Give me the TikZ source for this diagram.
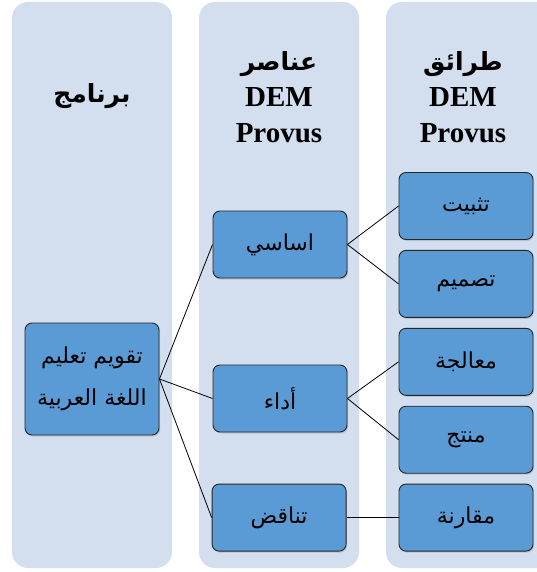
\documentclass[tikz,border=0pt]{standalone}
\usepackage{fontspec}
\setmainfont{Liberation Serif}
\newfontfamily\arabicfont[Script=Arabic]{DejaVu Sans}
\TeXXeTstate=1
\usetikzlibrary{positioning,shadows}
\definecolor{colbg}{HTML}{D3DEEF}
\definecolor{boxblue}{HTML}{5B9BD5}
\newcommand{\artext}[1]{{\arabicfont\beginR #1\endR}}

\begin{document}
\begin{tikzpicture}[x=1pt,y=-1pt,line width=0.8pt,
		item node/.style={draw=black!85,fill=boxblue,rounded corners=7pt,line width=0.9pt,
			minimum width=134pt,minimum height=67pt,align=center,
			font=\fontsize{22}{44}\selectfont,
			drop shadow={shadow xshift=1pt,shadow yshift=-1.5pt,opacity=0.3}},
		head node/.style={align=center,font=\fontsize{29}{36}\selectfont\bfseries}]
		\useasboundingbox (0,0) rectangle (536,572);
		% 背景
		\fill[colbg,rounded corners=16pt] (12,2) rectangle (172,568);
		\fill[colbg,rounded corners=16pt] (199,2) rectangle (359,568);
		\fill[colbg,rounded corners=16pt] (386,2) rectangle (556,568);
		
		\node[head node] (barnamij) at (92,96) {\artext{\fontsize{25}{36}\selectfont برنامج}};
		\node[head node] (anasir) at (279,97) {\artext{\fontsize{25}{36}\selectfont عناصر}\\DEM\\Provus};
		\node[head node] (taraiq) at (463,97) {\artext{\fontsize{25}{36}\selectfont طرائق}\\DEM\\Provus};
		
		\node[item node,minimum height=112pt] (taqwim) at (92,379) {\artext{تقويم تعليم}\\[-2pt]\artext{اللغة العربية}};
		
		\node[item node] (tathbit) at (466,206) {\artext{تثبيت}};
		\node[item node] (tasmim) [below=10pt of tathbit] {\artext{تصميم}};
		\node[item node] (muaalaja) [below=10pt of tasmim] {\artext{معالجة}};
		\node[item node] (muntaj) [below=10pt of muaalaja] {\artext{منتج}};
		\node[item node] (muqarana) [below=10pt of muntaj] {\artext{مقارنة}};
		
		\node[item node] (asasi) at (280,244.5) {\artext{اساسي}};
		\node[item node] (ada) at (280,398.5) {\artext{أداء}};
		\node[item node] (tanaqud) [left=52pt of muqarana] {\artext{تناقض}};
		
		\path
		(taqwim.east) edge (asasi.west)
		(taqwim.east) edge (ada.west)
		(taqwim.east) edge (tanaqud.west)
		(asasi.east) edge (tathbit.west)
		(asasi.east) edge (tasmim.west)
		(ada.east) edge (muaalaja.west)
		(ada.east) edge (muntaj.west)
		(tanaqud.east) edge (muqarana.west);
\end{tikzpicture}
\end{document}
